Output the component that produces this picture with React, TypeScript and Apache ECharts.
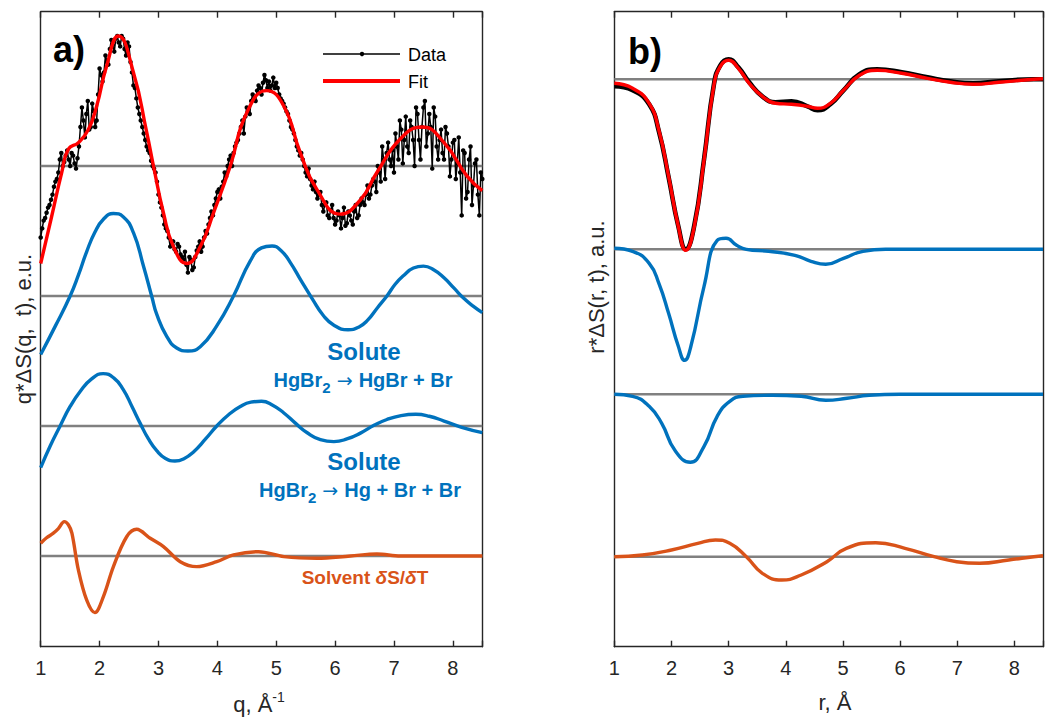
import React, { useEffect, useRef } from 'react';
import * as echarts from 'echarts';

const FONT = '"Liberation Sans", Arial, Helvetica, sans-serif';
const TXT = '#262626';
const BLUE = '#0072BD';
const ORANGE = '#D95319';
const RED = '#FF0000';
const GRAY = '#808080';

// ---------- Panel a) q-space ----------
// measured data, sampled every 0.05 from q = 1.00 to 8.50 (relative to its baseline)
const qDataStart = 1.0;
const qDataStep = 0.05;
const dataA = [
  -0.55, -0.42, -0.36, -0.30, -0.22, -0.12, -0.05, 0.10, 0.03, 0.12,
  0.0, 0.08, -0.02, 0.15, 0.45, 0.22, 0.50, 0.30, 0.42, 0.35,
  0.75, 0.65, 0.85, 0.78, 0.97, 0.88, 1.0, 0.92, 0.98, 0.85,
  0.92, 0.72, 0.60, 0.45, 0.35, 0.25, 0.15, 0.10, 0.0, -0.05,
  -0.22, -0.32, -0.45, -0.50, -0.62, -0.58, -0.66, -0.62, -0.70, -0.66,
  -0.82, -0.72, -0.78, -0.65, -0.58, -0.62, -0.50, -0.45, -0.35, -0.30,
  -0.20, -0.25, -0.12, -0.08, 0.05, 0.0, 0.15, 0.20, 0.30, 0.25,
  0.45, 0.40, 0.55, 0.50, 0.62, 0.55, 0.70, 0.60, 0.58, 0.68,
  0.64, 0.55, 0.50, 0.45, 0.40, 0.30, 0.25, 0.15, 0.08, 0.05,
  -0.05, -0.02, -0.15, -0.12, -0.25, -0.20, -0.35, -0.28, -0.40, -0.30,
  -0.45, -0.35, -0.48, -0.32, -0.44, -0.38, -0.45, -0.30, -0.38, -0.25,
  -0.30, -0.15, -0.22, -0.10, -0.20, -0.05, 0.15, -0.10, 0.18, 0.0,
  -0.05, 0.15, 0.35, 0.02, 0.38, 0.10, 0.30, 0.0, 0.40, 0.05,
  0.45, 0.15, 0.40, -0.02, 0.38, 0.05, 0.28, 0.05, 0.25, -0.08,
  0.18, -0.10, 0.22, -0.38, 0.10, -0.20, 0.15, -0.15, 0.05, -0.38,
  -0.10,
];
// measured data in between, at q = 1.025, 1.075, ... 8.475
const qDataMidStart = 1.025;
const dataAMid = [
  -0.48, -0.40, -0.32, -0.26, -0.16, -0.10, 0.05, 0.00, 0.08, 0.05,
  0.10, 0.02, 0.06, 0.30, 0.35, 0.40, 0.28, 0.48, 0.30, 0.55,
  0.70, 0.72, 0.80, 0.90, 0.93, 0.98, 0.95, 1.0, 0.90, 0.95,
  0.80, 0.62, 0.52, 0.40, 0.30, 0.20, 0.12, 0.04, -0.02, -0.12,
  -0.28, -0.38, -0.48, -0.55, -0.60, -0.64, -0.60, -0.68, -0.72, -0.76,
  -0.70, -0.80, -0.70, -0.62, -0.66, -0.55, -0.52, -0.40, -0.38, -0.25,
  -0.18, -0.16, -0.05, 0.00, 0.08, 0.10, 0.18, 0.25, 0.35, 0.38,
  0.42, 0.50, 0.52, 0.58, 0.60, 0.64, 0.66, 0.65, 0.62, 0.60,
  0.60, 0.52, 0.48, 0.42, 0.35, 0.28, 0.20, 0.12, 0.10, 0.00,
  -0.08, -0.10, -0.18, -0.20, -0.22, -0.30, -0.30, -0.38, -0.34, -0.40,
  -0.42, -0.38, -0.40, -0.46, -0.35, -0.42, -0.35, -0.40, -0.30, -0.28,
  -0.22, -0.25, -0.15, -0.12, 0.00, -0.12, 0.05, 0.10, 0.05, 0.12,
  0.25, 0.05, 0.28, 0.20, 0.15, 0.35, 0.20, 0.45, 0.20, 0.30,
  0.50, 0.25, 0.30, 0.45, 0.15, 0.20, 0.10, 0.30, 0.15, 0.05,
  0.20, 0.02, -0.05, 0.12, -0.25, 0.05, -0.30, 0.02, -0.22, -0.05,
];

const qFit = [1.0, 1.18, 1.357, 1.47, 1.64, 1.81, 1.95, 2.12, 2.32, 2.575, 2.8, 2.915, 3.085, 3.255, 3.48, 3.71, 3.935, 4.22, 4.5, 4.84, 5.13, 5.41, 5.69, 6.09, 6.43, 6.71, 7.11, 7.48, 7.85, 8.245, 8.5];
const fitA = [-0.75, -0.40, -0.05, 0.13, 0.18, 0.28, 0.46, 0.77, 1.0, 0.72, 0.26, 0.0, -0.36, -0.62, -0.75, -0.62, -0.36, 0.0, 0.41, 0.58, 0.46, 0.10, -0.18, -0.37, -0.26, -0.05, 0.21, 0.30, 0.18, -0.08, -0.19];

const qSol1 = [1.0, 1.25, 1.5, 1.64, 1.78, 1.92, 2.065, 2.235, 2.4, 2.575, 2.745, 2.89, 2.97, 3.14, 3.31, 3.5, 3.71, 3.99, 4.275, 4.56, 4.75, 4.93, 5.08, 5.24, 5.42, 5.61, 5.8, 5.98, 6.22, 6.4, 6.545, 6.72, 6.88, 7.02, 7.17, 7.33, 7.5, 7.68, 7.85, 8.02, 8.19, 8.35, 8.5];
const sol1A = [-0.45, -0.23, 0.0, 0.16, 0.34, 0.49, 0.59, 0.634, 0.61, 0.487, 0.231, -0.01, -0.14, -0.31, -0.40, -0.423, -0.39, -0.23, 0.0, 0.27, 0.37, 0.385, 0.35, 0.257, 0.12, -0.02, -0.15, -0.225, -0.26, -0.24, -0.19, -0.09, 0.0, 0.09, 0.16, 0.215, 0.23, 0.20, 0.14, 0.06, -0.02, -0.08, -0.128];

const qSol2 = [1.0, 1.165, 1.33, 1.5, 1.67, 1.86, 2.06, 2.24, 2.4, 2.55, 2.69, 2.83, 2.97, 3.12, 3.28, 3.44, 3.595, 3.8, 3.99, 4.2, 4.39, 4.57, 4.75, 4.94, 5.13, 5.33, 5.52, 5.75, 5.98, 6.2, 6.43, 6.66, 6.88, 7.12, 7.37, 7.6, 7.85, 8.15, 8.5];
const sol2A = [-0.32, -0.15, 0.0, 0.15, 0.265, 0.36, 0.403, 0.37, 0.282, 0.15, 0.02, -0.10, -0.19, -0.25, -0.269, -0.25, -0.20, -0.10, 0.0, 0.09, 0.15, 0.183, 0.19, 0.16, 0.10, 0.02, -0.05, -0.105, -0.12, -0.10, -0.055, 0.005, 0.05, 0.08, 0.09, 0.075, 0.038, -0.01, -0.051];

const qSolv = [1.0, 1.1, 1.215, 1.3, 1.4, 1.47, 1.53, 1.64, 1.78, 1.92, 2.065, 2.235, 2.46, 2.63, 2.86, 3.085, 3.37, 3.65, 3.99, 4.275, 4.7, 5.13, 5.69, 6.26, 6.71, 7.11, 8.5];
const solvA = [0.098, 0.14, 0.175, 0.21, 0.264, 0.24, 0.175, -0.108, -0.338, -0.436, -0.313, -0.082, 0.148, 0.205, 0.136, 0.072, -0.044, -0.082, -0.044, 0.008, 0.033, -0.005, -0.018, 0.0, 0.015, 0.0, 0.0];

// vertical offsets (baselines) of the stacked curves in panel a
const offsetsA = { data: 3, sol1: 2, sol2: 1, solv: 0 };

// ---------- Panel b) r-space ----------
const rFit = [1.0, 1.32, 1.61, 1.78, 1.95, 2.12, 2.25, 2.4, 2.57, 2.74, 2.855, 3.0, 3.17, 3.36, 3.59, 3.82, 4.1, 4.38, 4.555, 4.78, 5.01, 5.29, 5.6, 6.03, 6.48, 6.88, 7.28, 7.73, 8.34, 8.5];
const fitB = [-0.04, -0.09, -0.24, -0.51, -0.97, -1.47, -1.71, -1.47, -0.81, -0.07, 0.13, 0.19, 0.11, -0.04, -0.17, -0.24, -0.25, -0.27, -0.29, -0.24, -0.11, 0.04, 0.09, 0.06, 0.01, -0.03, -0.05, -0.03, 0.0, 0.005];
const dataB = [-0.07, -0.11, -0.25, -0.52, -0.98, -1.47, -1.70, -1.46, -0.80, -0.06, 0.14, 0.20, 0.12, -0.03, -0.17, -0.23, -0.22, -0.27, -0.31, -0.25, -0.11, 0.05, 0.10, 0.07, 0.02, -0.02, -0.04, -0.02, 0.0, 0.0];

const rSol1 = [1.0, 1.32, 1.61, 1.78, 1.95, 2.12, 2.23, 2.34, 2.57, 2.8, 2.955, 3.14, 3.31, 3.7, 4.16, 4.44, 4.7, 5.01, 5.35, 5.745, 8.5];
const sol1B = [0.01, -0.02, -0.14, -0.34, -0.64, -0.97, -1.11, -0.97, -0.37, 0.09, 0.11, 0.04, 0.0, -0.02, -0.06, -0.12, -0.15, -0.09, -0.02, 0.0, 0.0];

const rSol2 = [1.0, 1.32, 1.61, 1.83, 2.06, 2.33, 2.57, 2.8, 3.02, 3.25, 3.76, 4.27, 4.7, 5.07, 5.46, 6.0, 8.5];
const sol2B = [0.0, -0.02, -0.12, -0.29, -0.56, -0.68, -0.52, -0.22, -0.07, -0.02, -0.01, -0.02, -0.06, -0.04, -0.01, 0.0, 0.0];

const rSolv = [1.0, 1.49, 2.0, 2.46, 2.77, 3.02, 3.31, 3.59, 3.93, 4.27, 4.72, 5.06, 5.575, 6.085, 6.595, 6.99, 7.39, 7.9, 8.34, 8.5];
const solvB = [0.0, 0.017, 0.067, 0.134, 0.167, 0.134, 0.0, -0.166, -0.233, -0.183, -0.05, 0.084, 0.14, 0.084, 0.0, -0.05, -0.066, -0.033, 0.0, 0.01];

const offsetsB = { data: 4.774, sol1: 3.074, sol2: 1.624, solv: 0 };

const X_MIN = 1;
const X_MAX = 8.5;

function pairs(xs: number[], vs: number[], off: number) {
  return vs.map((v, i) => [xs[i], v + off]);
}

function curve(name: string, data: number[][], color: string, width: number, ax: number, z = 3, smooth: number | boolean = 0.5): any {
  return {
    name,
    type: 'line',
    xAxisIndex: ax,
    yAxisIndex: ax,
    data,
    smooth,
    showSymbol: false,
    lineStyle: { color, width },
    itemStyle: { color },
    z,
    silent: true,
  };
}

function baseline(off: number, ax: number): any {
  return {
    type: 'line',
    xAxisIndex: ax,
    yAxisIndex: ax,
    data: [[X_MIN, off], [X_MAX, off]],
    showSymbol: false,
    lineStyle: { color: GRAY, width: 2.6 },
    z: 1,
    silent: true,
  };
}

function xAxisBottom(gridIndex: number): any {
  return {
    type: 'value',
    gridIndex,
    position: 'bottom',
    min: X_MIN,
    max: X_MAX,
    interval: 1,
    axisLine: { show: true, onZero: false, lineStyle: { color: TXT, width: 1.4 } },
    axisTick: { show: true, inside: true, length: 6, lineStyle: { color: TXT, width: 1.4 } },
    axisLabel: {
      show: true,
      margin: 11,
      fontSize: 20,
      color: TXT,
      fontFamily: FONT,
      formatter: (v: number) => (Number.isInteger(v) ? String(v) : ''),
    },
    splitLine: { show: false },
  };
}

function xAxisTop(gridIndex: number): any {
  return {
    type: 'value',
    gridIndex,
    position: 'top',
    min: X_MIN,
    max: X_MAX,
    interval: 1,
    axisLine: { show: true, onZero: false, lineStyle: { color: TXT, width: 1.4 } },
    axisTick: { show: true, inside: true, length: 6, lineStyle: { color: TXT, width: 1.4 } },
    axisLabel: { show: false },
    splitLine: { show: false },
  };
}

function yAxis(gridIndex: number, position: string, min: number, max: number): any {
  return {
    type: 'value',
    gridIndex,
    position,
    min,
    max,
    axisLine: { show: true, onZero: false, lineStyle: { color: TXT, width: 1.4 } },
    axisTick: { show: false },
    axisLabel: { show: false },
    splitLine: { show: false },
  };
}

function txt(x: number, y: number, text: string, extra: any = {}, rich?: any, rotation = 0): any {
  return {
    type: 'text',
    x,
    y,
    rotation,
    z: 100,
    style: {
      text,
      fill: extra.fill || TXT,
      font: extra.font || `20px ${FONT}`,
      align: extra.align || 'center',
      verticalAlign: 'middle',
      rich,
    },
  };
}

export default function App() {
  const ref = useRef<HTMLDivElement>(null);

  useEffect(() => {
    if (!ref.current) return;
    const chart = echarts.init(ref.current, undefined, { renderer: 'svg' });

    const dataPts: number[][] = [];
    dataA.forEach((v, i) => {
      dataPts.push([qDataStart + i * qDataStep, v + offsetsA.data]);
      if (i < dataAMid.length) {
        dataPts.push([qDataMidStart + i * qDataStep, dataAMid[i] + offsetsA.data]);
      }
    });

    const aYmin = -0.698;
    const aYmax = 4.187;
    const bYmin = -0.9;
    const bYmax = 5.45;

    const richSolute = (color: string) => ({
      m: { fontSize: 20, fontWeight: 'bold', fontFamily: FONT, fill: color, lineHeight: 30 },
      s: { fontSize: 15, fontWeight: 'bold', fontFamily: FONT, fill: color, lineHeight: 14, verticalAlign: 'bottom' },
      a: { fontSize: 19, fontWeight: 'normal', fontFamily: '"DejaVu Sans", sans-serif', fill: color, lineHeight: 30 },
    });

    const option: any = {
      animation: false,
      backgroundColor: '#ffffff',
      grid: [
        { left: 40.7, top: 11.7, width: 441.6, height: 635 },
        { left: 614.3, top: 11.7, width: 441, height: 635 },
      ],
      xAxis: [xAxisBottom(0), xAxisTop(0), xAxisBottom(1), xAxisTop(1)],
      yAxis: [
        yAxis(0, 'left', aYmin, aYmax),
        yAxis(0, 'right', aYmin, aYmax),
        yAxis(1, 'left', bYmin, bYmax),
        yAxis(1, 'right', bYmin, bYmax),
      ],
      series: [
        // panel a
        baseline(offsetsA.data, 0),
        baseline(offsetsA.sol1, 0),
        baseline(offsetsA.sol2, 0),
        baseline(offsetsA.solv, 0),
        {
          name: 'Data',
          type: 'line',
          xAxisIndex: 0,
          yAxisIndex: 0,
          data: dataPts,
          showSymbol: true,
          showAllSymbol: true,
          symbol: 'circle',
          symbolSize: 4.5,
          lineStyle: { color: '#000000', width: 1.5 },
          itemStyle: { color: '#000000' },
          z: 3,
          silent: true,
        },
        curve('Fit', pairs(qFit, fitA, offsetsA.data), RED, 3.4, 0, 4),
        curve('Solute 1', pairs(qSol1, sol1A, offsetsA.sol1), BLUE, 3.4, 0),
        curve('Solute 2', pairs(qSol2, sol2A, offsetsA.sol2), BLUE, 3.4, 0),
        curve('Solvent', pairs(qSolv, solvA, offsetsA.solv), ORANGE, 3.4, 0, 3, 0.35),
        // panel b
        baseline(offsetsB.data, 2),
        baseline(offsetsB.sol1, 2),
        baseline(offsetsB.sol2, 2),
        baseline(offsetsB.solv, 2),
        curve('Data r', pairs(rFit, dataB, offsetsB.data), '#000000', 4.6, 2, 3),
        curve('Fit r', pairs(rFit, fitB, offsetsB.data), RED, 3.4, 2, 4),
        curve('Solute 1 r', pairs(rSol1, sol1B, offsetsB.sol1), BLUE, 3.4, 2),
        curve('Solute 2 r', pairs(rSol2, sol2B, offsetsB.sol2), BLUE, 3.4, 2),
        curve('Solvent r', pairs(rSolv, solvB, offsetsB.solv), ORANGE, 3.4, 2),
      ],
      graphic: [
        // panel labels
        txt(53, 49, 'a)', { font: `bold 36px ${FONT}`, fill: '#000000', align: 'left' }),
        txt(628, 51, 'b)', { font: `bold 36px ${FONT}`, fill: '#000000', align: 'left' }),
        // legend
        { type: 'line', z: 100, shape: { x1: 323, y1: 54, x2: 400, y2: 54 }, style: { stroke: '#000000', lineWidth: 1.5 } },
        { type: 'circle', z: 101, shape: { cx: 362, cy: 54, r: 2.2 }, style: { fill: '#000000' } },
        txt(408, 55, 'Data', { font: `18px ${FONT}`, fill: '#000000', align: 'left' }),
        { type: 'line', z: 100, shape: { x1: 323, y1: 81, x2: 400, y2: 81 }, style: { stroke: RED, lineWidth: 4 } },
        txt(408, 81.5, 'Fit', { font: `18px ${FONT}`, fill: '#000000', align: 'left' }),
        // annotations
        txt(364, 351, 'Solute', { font: `bold 24px ${FONT}`, fill: BLUE }),
        txt(363, 380, '{m|HgBr}{s|2}{a| → }{m|HgBr + Br}', { fill: BLUE, font: `bold 20px ${FONT}` }, richSolute(BLUE)),
        txt(364, 461, 'Solute', { font: `bold 24px ${FONT}`, fill: BLUE }),
        txt(360, 490, '{m|HgBr}{s|2}{a| → }{m|Hg + Br + Br}', { fill: BLUE, font: `bold 20px ${FONT}` }, richSolute(BLUE)),
        txt(365, 577, '{m|Solvent }{i|δ}{m|S/}{i|δ}{m|T}', { fill: ORANGE, font: `bold 19px ${FONT}` }, {
          m: { fontSize: 19, fontWeight: 'bold', fontFamily: FONT, fill: ORANGE },
          i: { fontSize: 19, fontWeight: 'bold', fontStyle: 'italic', fontFamily: FONT, fill: ORANGE },
        }),
        // axis titles
        txt(23, 329, 'q*ΔS(q,  t), e.u.', { font: `22px ${FONT}` }, undefined, Math.PI / 2),
        txt(596, 287, 'r*ΔS(r, t), a.u.', { font: `22px ${FONT}` }, undefined, Math.PI / 2),
        txt(259, 704, '{m|q, Å}{p|-1}', { font: `22px ${FONT}` }, {
          m: { fontSize: 22, fontFamily: FONT, fill: TXT, lineHeight: 28 },
          p: { fontSize: 14, fontFamily: FONT, fill: TXT, lineHeight: 14, verticalAlign: 'top' },
        }),
        txt(835, 702, 'r, Å', { font: `22px ${FONT}` }),
      ],
    };

    chart.setOption(option);
    return () => chart.dispose();
  }, []);

  return (
    <div
      ref={ref}
      style={{ position: 'fixed', left: 0, top: 0, width: 1046, height: 720, background: '#fff' }}
    />
  );
}
